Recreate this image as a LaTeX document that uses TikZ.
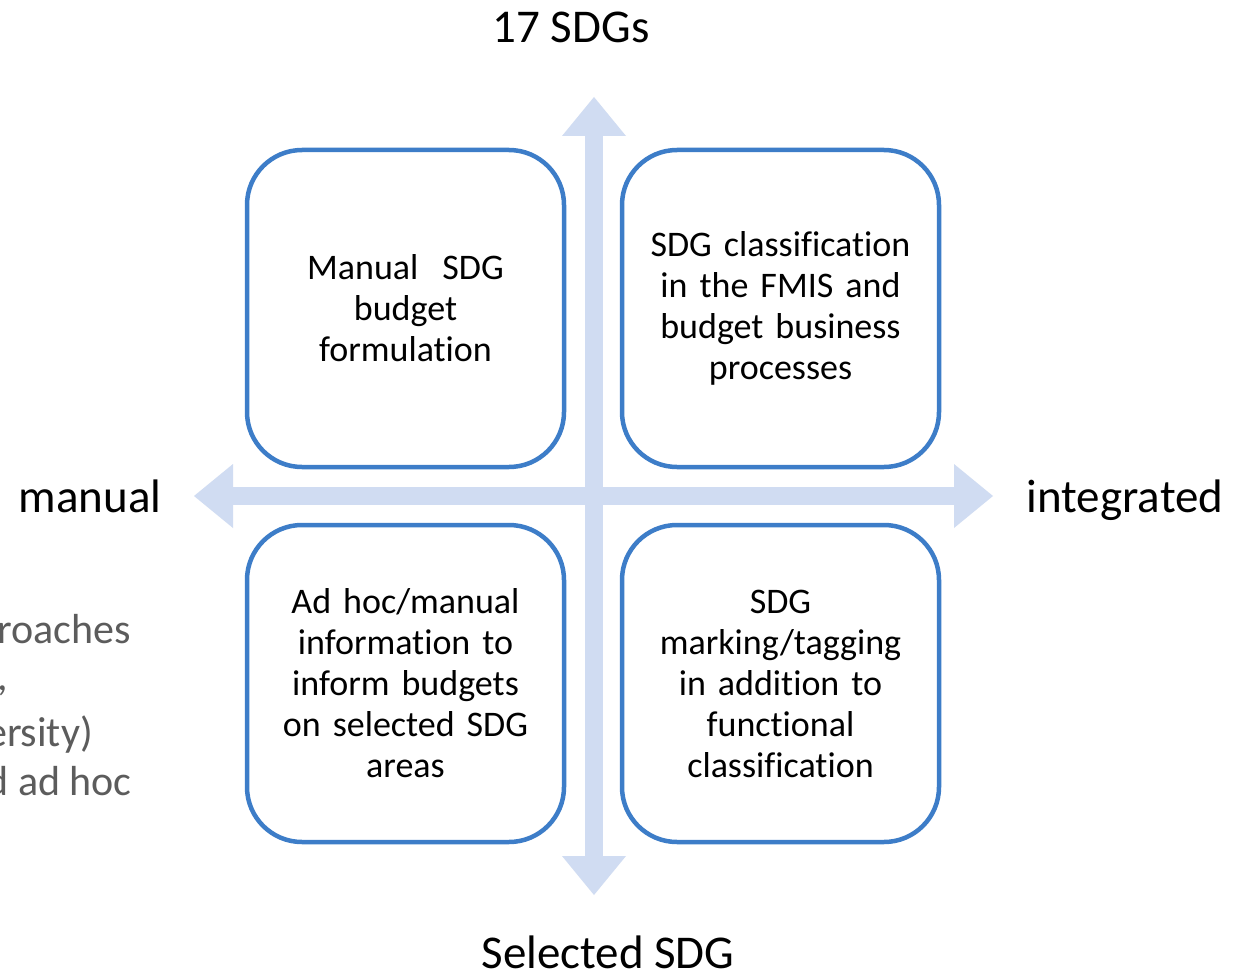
\documentclass[tikz,border=0pt]{standalone}
\usepackage{fontspec}
\setmainfont{Carlito}[Ligatures=NoCommon]
\usetikzlibrary{arrows.meta}
\definecolor{boxblue}{RGB}{61,125,200}
\definecolor{axisblue}{RGB}{208,220,242}
\definecolor{softgray}{RGB}{92,92,92}
\begin{document}
\begin{tikzpicture}[x=1pt,y=-1pt,
  quad/.style={draw=boxblue,line width=4.5pt,rounded corners=55pt,fill=white,
    minimum width=317pt,minimum height=317pt,inner sep=0pt,align=center,
    text width=290pt,font=\fontsize{36}{41}\selectfont},
  axislabel/.style={anchor=base,inner sep=0pt,font=\fontsize{47}{56}\selectfont},
  sidenote/.style={anchor=base east,inner sep=0pt,text=softgray,font=\fontsize{42}{50}\selectfont},
  axis/.style={draw=axisblue,line width=18pt,
    {Triangle[width=64pt,length=39pt,line width=0pt]}-{Triangle[width=64pt,length=39pt,line width=0pt]}}]
  \fill[white] (0,0) rectangle (1245,971);
  \clip (0,0) rectangle (1245,971);

  % axis end points
  \coordinate (N) at (594,97);
  \coordinate (S) at (594,895);
  \coordinate (W) at (194,496);
  \coordinate (E) at (993,496);
  \draw[axis] (S) -- (N);
  \draw[axis] (W) -- (E);

  % axis labels
  \node[axislabel] (top) at (571,43) {17 SDGs};
  \node[axislabel] (bottom) at (608,968) {Selected SDG};
  \node[axislabel] (left) at (90,512) {manual};
  \node[axislabel] (right) at (1125,512) {integrated};

  % quadrants
  \node[quad] (q1) at (405.5,308.5) {Manual\ \ SDG\\budget\\formulation};
  \node[quad] (q2) at (780.5,308.5) {SDG classification\\in the FMIS and\\budget business\\processes};
  \node[quad] (q3) at (405.5,683.5) {Ad hoc/manual\\information to\\inform budgets\\on selected SDG\\areas};
  \node[quad] (q4) at (780.5,683.5) {SDG\\marking/tagging\\in addition to\\functional\\classification};

  % notes running in from the left edge
  \node[sidenote] (n1) at (131,643) {roaches};
  \node[sidenote] (n2) at (8,690) {,};
  \node[sidenote] (n3) at (93,746) {ersity)};
  \node[sidenote] (n4) at (132,795) {d ad hoc};
\end{tikzpicture}
\end{document}
